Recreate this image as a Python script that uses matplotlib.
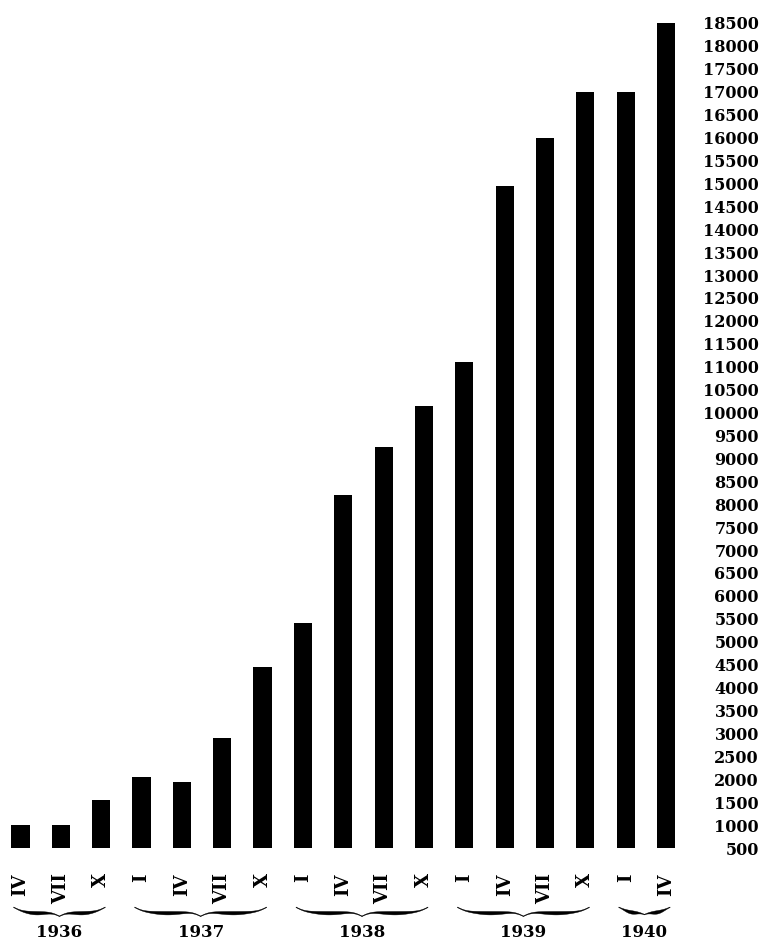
import numpy as np
import matplotlib
matplotlib.use("Agg")
import matplotlib.pyplot as plt
from matplotlib import transforms

# months (roman) per bar, grouped by year
months = ["IV", "VII", "X",
          "I", "IV", "VII", "X",
          "I", "IV", "VII", "X",
          "I", "IV", "VII", "X",
          "I", "IV"]
values = [1000, 1000, 1550,
          2050, 1950, 2900, 4450,
          5400, 8200, 9250, 10150,
          11100, 14950, 16000, 17000,
          17000, 18500]
years = ["1936", "1937", "1938", "1939", "1940"]
year_counts = [3, 4, 4, 4, 2]
yticks = list(range(500, 19000, 500))

plt.rcParams['font.family'] = ['DejaVu Serif']
plt.rcParams['font.weight'] = 'bold'

fig = plt.figure(figsize=(7.62, 9.4), dpi=100)
ax = fig.add_axes([0.00043, 0.09787, 0.9001, 0.8923])

x = np.arange(len(values))
ax.bar(x, values, width=0.45, color="black")

ax.set_xlim(-0.5, 16.5)
ax.set_ylim(500, 18800)

for s in ax.spines.values():
    s.set_visible(False)

ax.yaxis.tick_right()
ax.set_yticks(yticks)
ax.set_yticklabels([str(v) for v in yticks], fontsize=11.5, fontweight='bold')
ax.tick_params(axis='y', length=0, pad=52.4)
for lab in ax.get_yticklabels():
    lab.set_horizontalalignment('right')

ax.set_xticks(x)
ax.set_xticklabels(months, rotation=90, fontsize=13, fontweight='bold')
ax.tick_params(axis='x', length=0, pad=18)

# braces under each year group, y in inches from figure bottom
trans = transforms.blended_transform_factory(ax.transData, fig.dpi_scale_trans)
px_per_unit = 0.9001 * 762 / 17.0


def brace(x0, x1, ytop, thick):
    xm = (x0 + x1) / 2
    half_px = (xm - x0) * px_per_unit
    depth = min(0.09, half_px / 350)
    n = 120
    u = np.linspace(0, 1, n)
    b = half_px / 4.5
    yh = 1 / (1 + np.exp(-b * u)) + 1 / (1 + np.exp(-b * (u - 1))) - 0.5
    th = thick * np.sin(np.pi * u) ** 2 + 0.006
    xl = x0 + (xm - x0) * u
    xr = x1 - (x1 - xm) * u
    yy = ytop - depth * yh
    for xs in (xl, xr):
        px = np.concatenate([xs, xs[::-1]])
        py = np.concatenate([yy, (yy - th)[::-1]])
        ax.fill(px, py, color="black", transform=trans, clip_on=False, lw=0.3,
                edgecolor="black")


start = 0
for yr, cnt in zip(years, year_counts):
    x0 = start - 0.17
    x1 = start + cnt - 1 + 0.1
    brace(x0, x1, (940 - 907) / 100, 0.028)
    ax.text((x0 + x1) / 2, (940 - 937) / 100, yr, transform=trans,
            ha='center', va='baseline', fontsize=12, fontweight='bold')
    start += cnt

fig.savefig("out.png", dpi=100)
